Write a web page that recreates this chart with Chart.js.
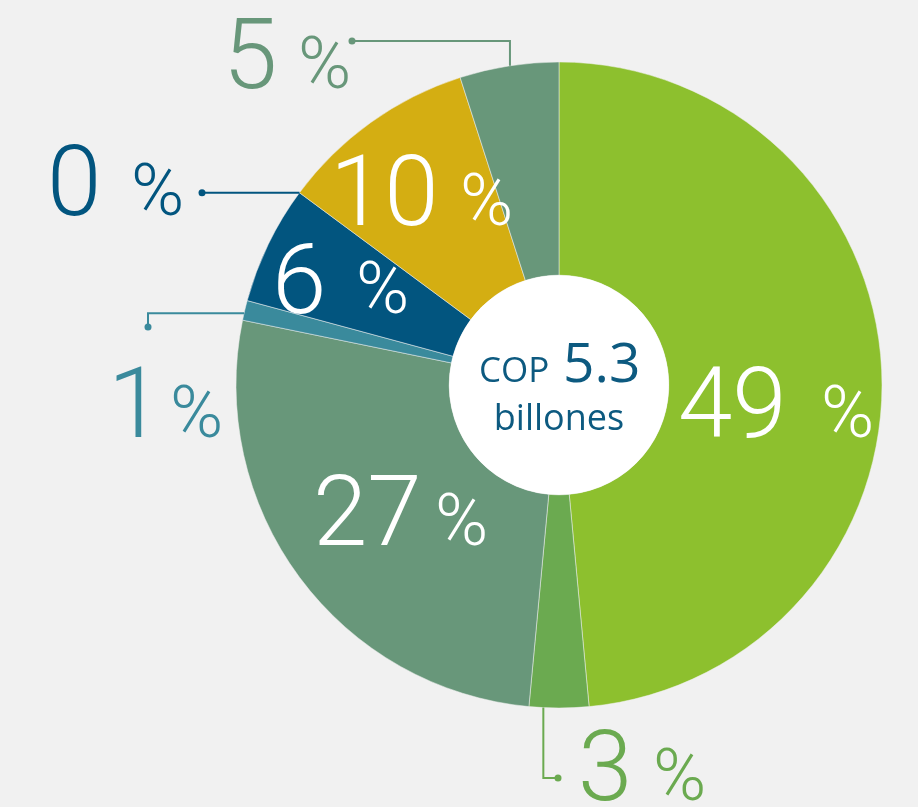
<!DOCTYPE html>
<html>
<head>
<meta charset="utf-8">
<script src="https://cdn.jsdelivr.net/npm/chart.js@4.4.1/dist/chart.umd.min.js"></script>
<style>
  html, body { margin: 0; padding: 0; background: #f1f1f1; }
  canvas { display: block; }
</style>
</head>
<body>
<canvas id="chart" width="918" height="807"></canvas>
<script>
// Share of the total, in percent, clockwise from 12 o'clock
const shares = [49, 3, 27, 1, 6, 0, 10, 5];
const shareLabels = shares.map(v => v + ' %');

// Slice colours
const sliceColors = ['#8dc02e', '#6baa50', '#68977a', '#3a8a9c', '#02557f', '#02557f', '#d4ae12', '#68977a'];
// Colour of each value label (white inside the ring, slice colour outside)
const labelColors = ['#ffffff', '#6baa50', '#ffffff', '#3a8a9c', '#ffffff', '#02557f', '#ffffff', '#68977a'];

// Centre caption
const centreCurrency = 'COP';
const centreAmount = '5.3';
const centreUnit = 'billones';

// Label placement: left edge of the number, left edge of "%", baseline.
// Outside labels also get a leader line from the ring edge.
const labelLayout = [
  { nx: 678, px: 821, y: 437 },
  { nx: 578, px: 653, y: 800, leader: { frac: 0.76, route: a => [[a.x, 778], [558, 778]] } },
  { nx: 313, px: 435, y: 545 },
  { nx: 108, px: 170, y: 437, leader: { frac: 0.35, route: a => [[148, a.y], [148, 327]] } },
  { nx: 272, px: 356, y: 313 },
  { nx: 47,  px: 131, y: 215, leader: { frac: 0, route: a => [[202, a.y]] } },
  { nx: 330, px: 460, y: 225 },
  { nx: 223, px: 298, y: 88,  leader: { frac: 0.51, route: a => [[a.x, 41], [352, 41]] } }
];

const ringDecor = {
  id: 'ringDecor',
  afterDatasetsDraw(chart) {
    const ctx = chart.ctx;
    const arcs = chart.getDatasetMeta(0).data;
    const first = arcs[0];
    const cx = first.x, cy = first.y;

    // white centre disc
    ctx.save();
    ctx.beginPath();
    ctx.arc(cx, cy, first.innerRadius, 0, Math.PI * 2);
    ctx.fillStyle = '#ffffff';
    ctx.fill();

    // centre caption
    ctx.fillStyle = '#0d5a80';
    ctx.textBaseline = 'alphabetic';
    ctx.textAlign = 'left';
    ctx.font = '400 35px "Open Sans"';
    ctx.fillText(centreCurrency, cx - 80, cy - 3);
    ctx.font = '400 55px "Open Sans"';
    ctx.fillText(centreAmount, cx + 4, cy - 3);
    ctx.textAlign = 'center';
    ctx.font = '400 36px "Open Sans"';
    ctx.fillText(centreUnit, cx, cy + 45);

    // value labels and leaders
    arcs.forEach((arc, i) => {
      const lay = labelLayout[i];
      const color = labelColors[i];
      if (lay.leader) {
        const a0 = arc.startAngle + lay.leader.frac * (arc.endAngle - arc.startAngle);
        const anchor = { x: cx + arc.outerRadius * Math.cos(a0), y: cy + arc.outerRadius * Math.sin(a0) };
        const pts = lay.leader.route(anchor);
        ctx.strokeStyle = color;
        ctx.lineWidth = 2;
        ctx.beginPath();
        ctx.moveTo(anchor.x, anchor.y);
        pts.forEach(p => ctx.lineTo(p[0], p[1]));
        ctx.stroke();
        const end = pts[pts.length - 1];
        ctx.beginPath();
        ctx.arc(end[0], end[1], 3.5, 0, Math.PI * 2);
        ctx.fillStyle = color;
        ctx.fill();
      }
      ctx.fillStyle = color;
      ctx.textAlign = 'left';
      ctx.font = '300 98px Roboto';
      ctx.fillText(String(shares[i]), lay.nx, lay.y);
      ctx.font = '300 72px Roboto';
      ctx.fillText('%', lay.px, lay.y);
    });
    ctx.restore();
  }
};

new Chart(document.getElementById('chart'), {
  type: 'doughnut',
  data: {
    labels: shareLabels,
    datasets: [{
      data: shares,
      backgroundColor: sliceColors,
      borderColor: 'rgba(241,241,241,0.5)',
      borderWidth: 1
    }]
  },
  options: {
    responsive: false,
    animation: false,
    radius: 323,
    cutout: '34%',
    layout: { padding: { left: 200, right: 0, top: 0, bottom: 37 } },
    plugins: {
      legend: { display: false },
      tooltip: { enabled: false }
    }
  },
  plugins: [ringDecor]
});
</script>
</body>
</html>
